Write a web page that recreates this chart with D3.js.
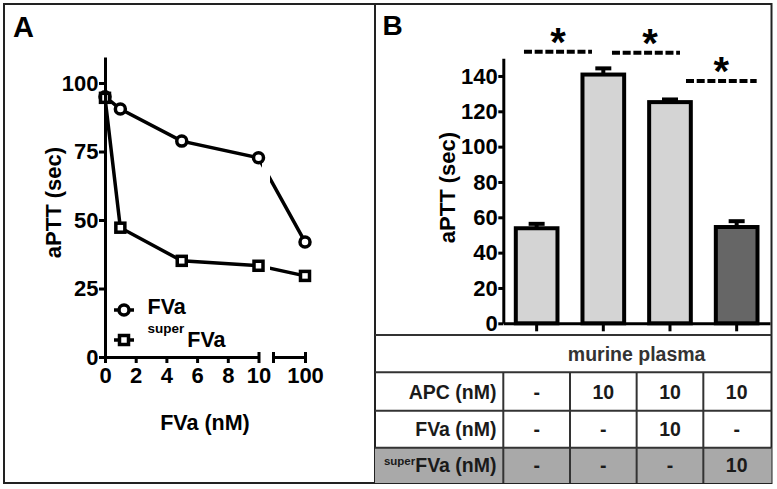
<!DOCTYPE html>
<html><head><meta charset="utf-8">
<script src="https://cdn.jsdelivr.net/npm/d3@7"></script>
<style>
html,body{margin:0;padding:0;background:#fff;}
svg{display:block;font-family:"Liberation Sans",Arial,sans-serif;font-weight:bold;}
</style></head><body>
<svg id="chart" width="777" height="489"></svg>
<script>
// ---------- Panel A data ----------
const concA = [0, 1, 5, 10, 100];
const fvaA = [95, 90.5, 78.8, 72.7, 42];
const superFvaA = [94.6, 47.2, 35.1, 33.3, 29.6];
const yTicksA = [0, 25, 50, 75, 100];
const xTicksA1 = [0, 2, 4, 6, 8, 10];
const xTicksA2 = [100];

// ---------- Panel B data ----------
const conditions = ["plasma", "APC", "APC+FVa", "APC+superFVa"];
const apttB = [53.8, 140.8, 125.2, 54.5];
const errB = [2.5, 3.5, 1.5, 3.3];
const yTicksB = [0, 20, 40, 60, 80, 100, 120, 140];
const apcRow = ["-", "10", "10", "10"];
const fvaRow = ["-", "-", "10", "-"];
const superRow = ["-", "-", "-", "10"];
const sigPairs = [[0, 1], [1, 2], [2, 3]];
const sigLevels = [153.7, 153.1, 137.1];
const sigLabels = ["*", "*", "*"];

const svg = d3.select("#chart");
const INK = "#000";

// ---------- frame ----------
svg.append("rect").attr("x", 4).attr("y", 4).attr("width", 767.5).attr("height", 479)
  .attr("fill", "none").attr("stroke", "#222").attr("stroke-width", 2);

// ===================== PANEL A =====================
const gA = svg.append("g");
gA.append("text").attr("x", 13).attr("y", 36.5).attr("font-size", 29).text("A");

const yA = d3.scaleLinear().domain([0, 109.5]).range([357, 57]);
const xA1 = d3.scaleLinear().domain([0, 10]).range([105, 258.5]);
const xA2 = d3.scaleLinear().domain([90, 100]).range([273.5, 305]);
const xA = v => (v <= 10 ? xA1(v) : xA2(v));

function styleAxis(g, fs) {
  g.attr("font-family", null).attr("font-size", fs).attr("font-weight", "bold");
  g.select(".domain").attr("stroke", INK).attr("stroke-width", 3);
  g.selectAll(".tick line").attr("stroke", INK).attr("stroke-width", 3);
  g.selectAll(".tick text").attr("fill", INK);
}

// lines with break gap
const defs = svg.append("defs");
defs.append("clipPath").attr("id", "clipL").append("rect")
  .attr("x", 0).attr("y", 0).attr("width", 262).attr("height", 489);
defs.append("clipPath").attr("id", "clipR").append("rect")
  .attr("x", 270).attr("y", 0).attr("width", 200).attr("height", 489);

const lineA = d3.line().x((d, i) => xA(concA[i])).y(d => yA(d));
[fvaA, superFvaA].forEach(series => {
  ["clipL", "clipR"].forEach(cp => {
    gA.append("path").attr("d", lineA(series)).attr("clip-path", `url(#${cp})`)
      .attr("fill", "none").attr("stroke", INK).attr("stroke-width", 3.5);
  });
});

gA.selectAll("circle.fva").data(fvaA).join("circle").attr("class", "fva")
  .attr("cx", (d, i) => xA(concA[i])).attr("cy", d => yA(d)).attr("r", 5)
  .attr("fill", "#fff").attr("stroke", INK).attr("stroke-width", 3.5);
gA.selectAll("rect.sfva").data(superFvaA).join("rect").attr("class", "sfva")
  .attr("x", (d, i) => xA(concA[i]) - 4.5).attr("y", d => yA(d) - 4.5)
  .attr("width", 9).attr("height", 9)
  .attr("fill", "#fff").attr("stroke", INK).attr("stroke-width", 3.5);

// axes A
const yAxA = gA.append("g").attr("transform", "translate(105,0)")
  .call(d3.axisLeft(yA).tickValues(yTicksA).tickSize(6).tickSizeOuter(0).tickPadding(0.5));
styleAxis(yAxA, 22);

const xAxA1 = gA.append("g").attr("transform", "translate(0,357)")
  .call(d3.axisBottom(xA1).tickValues(xTicksA1).tickSize(6).tickSizeOuter(0).tickPadding(4.5));
styleAxis(xAxA1, 22);
xAxA1.selectAll(".tick").filter(d => d === 10).select("line").attr("y1", -5).attr("y2", 6);

const xAxA2 = gA.append("g").attr("transform", "translate(0,357)")
  .call(d3.axisBottom(xA2).tickValues(xTicksA2).tickSize(6).tickSizeOuter(0).tickPadding(4.5));
styleAxis(xAxA2, 22);
xAxA2.selectAll(".tick line").attr("y1", -5).attr("y2", 6);
xAxA2.append("line").attr("x1", xA2.range()[0]).attr("x2", xA2.range()[0])
  .attr("y1", -5).attr("y2", 6).attr("stroke", INK).attr("stroke-width", 3);

gA.append("text").attr("transform", "translate(61,202.5) rotate(-90)")
  .attr("text-anchor", "middle").attr("font-size", 22).text("aPTT (sec)");
gA.append("text").attr("x", 205).attr("y", 430)
  .attr("text-anchor", "middle").attr("font-size", 21.5).text("FVa (nM)");

// legend
const lg = gA.append("g");
lg.append("line").attr("x1", 114).attr("x2", 134).attr("y1", 310).attr("y2", 310)
  .attr("stroke", INK).attr("stroke-width", 3.5);
lg.append("circle").attr("cx", 124).attr("cy", 310).attr("r", 5)
  .attr("fill", "#fff").attr("stroke", INK).attr("stroke-width", 3.5);
lg.append("text").attr("x", 147.5).attr("y", 314).attr("font-size", 21.5).text("FVa");
lg.append("line").attr("x1", 114).attr("x2", 134).attr("y1", 340).attr("y2", 340)
  .attr("stroke", INK).attr("stroke-width", 3.5);
lg.append("rect").attr("x", 119.5).attr("y", 335.5).attr("width", 9).attr("height", 9)
  .attr("fill", "#fff").attr("stroke", INK).attr("stroke-width", 3.5);
const lt = lg.append("text").attr("x", 147.5).attr("y", 332.5);
lt.append("tspan").attr("font-size", 13.5).text("super");
lt.append("tspan").attr("dx", 3).attr("dy", 14.5).attr("font-size", 21.5).text("FVa");

// ===================== PANEL B =====================
svg.append("line").attr("x1", 375).attr("x2", 375).attr("y1", 4).attr("y2", 483)
  .attr("stroke", "#222").attr("stroke-width", 2);

const gB = svg.append("g");
gB.append("text").attr("x", 382.5).attr("y", 35).attr("font-size", 28).text("B");

const xB = d3.scaleBand().domain(conditions).range([503.3, 770])
  .paddingInner(0.375).paddingOuter(0.1875);
const yB = d3.scaleLinear().domain([0, 150]).range([323.3, 58.3]);
const bw = xB.bandwidth();
const barFill = {"plasma": "#d4d4d4", "APC": "#d4d4d4", "APC+FVa": "#d4d4d4", "APC+superFVa": "#666666"};

gB.selectAll("rect.bar").data(conditions).join("rect").attr("class", "bar")
  .attr("x", c => xB(c)).attr("y", (c, i) => yB(apttB[i]))
  .attr("width", bw).attr("height", (c, i) => yB(0) - yB(apttB[i]))
  .attr("fill", c => barFill[c]).attr("stroke", INK).attr("stroke-width", 4);

conditions.forEach((c, i) => {
  const cx = xB(c) + bw / 2;
  const top = yB(apttB[i] + errB[i]);
  gB.append("line").attr("x1", cx).attr("x2", cx).attr("y1", yB(apttB[i])).attr("y2", top)
    .attr("stroke", INK).attr("stroke-width", 4);
  gB.append("line").attr("x1", cx - 8).attr("x2", cx + 8).attr("y1", top).attr("y2", top)
    .attr("stroke", INK).attr("stroke-width", 4);
});

const xAxB = gB.append("g").attr("transform", `translate(0,${yB(0)})`)
  .call(d3.axisBottom(xB).tickSize(8).tickSizeOuter(0).tickFormat(""));
styleAxis(xAxB, 22);
const yAxB = gB.append("g").attr("transform", `translate(${xB.range()[0]},0)`)
  .call(d3.axisLeft(yB).tickValues(yTicksB).tickSize(5).tickSizeOuter(0).tickPadding(0.5));
styleAxis(yAxB, 22);

gB.append("text").attr("transform", "translate(455,187.5) rotate(-90)")
  .attr("text-anchor", "middle").attr("font-size", 22).text("aPTT (sec)");

// significance annotations
const xi = d3.scaleLinear().domain([0, 3])
  .range([xB(conditions[0]) + bw / 2, xB(conditions[3]) + bw / 2]);
const sigSpans = [[-0.19, 0.83], [1.13, 2.15], [2.24, 3.3]];
sigPairs.forEach((p, k) => {
  const y = yB(sigLevels[k]);
  const [a, b] = sigSpans[k];
  gB.append("line").attr("x1", xi(a)).attr("x2", xi(b)).attr("y1", y).attr("y2", y)
    .attr("stroke", INK).attr("stroke-width", 4).attr("stroke-dasharray", "8,2.7");
  gB.append("text").attr("x", (xi(a) + xi(b)) / 2 + (k === 1 ? 4 : 0)).attr("y", y + 4)
    .attr("text-anchor", "middle").attr("font-size", 40).attr("font-weight", "bold")
    .text(sigLabels[k]);
});

// ---------- table ----------
const tb = svg.append("g");
const rowY = [335, 372.3, 410.7, 447.7, 483];
const L = 375, R = 771.5;
tb.append("rect").attr("x", L).attr("y", rowY[3]).attr("width", R - L).attr("height", rowY[4] - rowY[3])
  .attr("fill", "#a9a9a9");
rowY.slice(0, 4).forEach(y => {
  tb.append("line").attr("x1", L).attr("x2", R).attr("y1", y).attr("y2", y)
    .attr("stroke", "#333").attr("stroke-width", 2);
});
const step = xB.step();
conditions.forEach(c => {
  const vx = xB(c) - step * xB.paddingInner() / 2;
  tb.append("line").attr("x1", vx).attr("x2", vx).attr("y1", rowY[1]).attr("y2", rowY[4])
    .attr("stroke", "#333").attr("stroke-width", 2);
});
tb.append("text").attr("x", (xB.range()[0] + xB.range()[1]) / 2).attr("y", (rowY[0] + rowY[1]) / 2 + 7)
  .attr("text-anchor", "middle").attr("font-size", 19.5).attr("fill", "#333").text("murine plasma");

const labX = 496.5;
const r1 = (rowY[1] + rowY[2]) / 2 + 7, r2 = (rowY[2] + rowY[3]) / 2 + 7, r3 = (rowY[3] + rowY[4]) / 2 + 7;
tb.append("text").attr("x", labX).attr("y", r1).attr("text-anchor", "end").attr("font-size", 19.5)
  .attr("fill", "#1a1a1a").text("APC (nM)");
tb.append("text").attr("x", labX).attr("y", r2).attr("text-anchor", "end").attr("font-size", 19.5)
  .attr("fill", "#1a1a1a").text("FVa (nM)");
const st = tb.append("text").attr("x", labX).attr("y", r3).attr("text-anchor", "end").attr("fill", "#1a1a1a");
st.append("tspan").attr("font-size", 11.5).attr("dy", -7).text("super");
st.append("tspan").attr("font-size", 19.5).attr("dy", 7).text("FVa (nM)");

[[apcRow, r1], [fvaRow, r2], [superRow, r3]].forEach(([row, y]) => {
  tb.selectAll(null).data(row).join("text")
    .attr("x", (d, i) => xB(conditions[i]) + bw / 2).attr("y", y)
    .attr("text-anchor", "middle").attr("font-size", 19.5).attr("fill", "#1a1a1a").text(d => d);
});
</script>
</body></html>
